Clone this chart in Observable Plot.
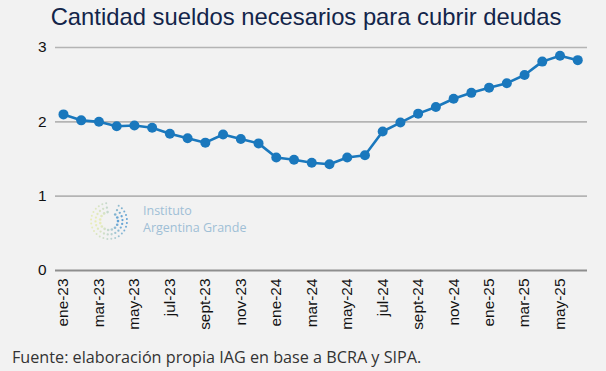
<!DOCTYPE html>
<html><head><meta charset="utf-8">
<script src="https://cdn.jsdelivr.net/npm/d3@7"></script>
<script src="https://cdn.jsdelivr.net/npm/@observablehq/plot@0.6"></script>
<style>
body{margin:0;background:#f2f2f2;}
#wrap{position:relative;width:606px;height:371px;background:#f2f2f2;overflow:hidden}
#title{height:36px;box-sizing:border-box;padding-top:5px;padding-left:6px;font:23.8px/24px "Liberation Sans",Arial,sans-serif;color:#13254a;text-align:center;white-space:nowrap}
#chart{height:310px}
#caption{box-sizing:border-box;padding-top:2px;padding-left:12px;font:16.2px/18px "Open Sans",sans-serif;color:#333;white-space:nowrap}
#logo{position:absolute;left:85px;top:197px;width:48px;height:48px}
.lt{position:absolute;left:143px;font:12.5px/17px "Open Sans",sans-serif;color:#9fbfd6;white-space:nowrap}
</style></head>
<body>
<div id="wrap">
<div id="title">Cantidad sueldos necesarios para cubrir deudas</div>
<div id="chart"></div>
<div id="caption">Fuente: elaboración propia IAG en base a BCRA y SIPA.</div>
<svg id="logo" viewBox="0 0 48 48"></svg>
<div class="lt" style="top:202px">Instituto</div>
<div class="lt" style="top:219px">Argentina Grande</div>
</div>
<script>
const months = ["ene-23","feb-23","mar-23","abr-23","may-23","jun-23","jul-23","ago-23","sept-23","oct-23","nov-23","dic-23",
  "ene-24","feb-24","mar-24","abr-24","may-24","jun-24","jul-24","ago-24","sept-24","oct-24","nov-24","dic-24",
  "ene-25","feb-25","mar-25","abr-25","may-25","jun-25"];
const values = [2.10,2.02,2.00,1.94,1.95,1.92,1.84,1.78,1.72,1.83,1.77,1.71,
  1.52,1.49,1.45,1.43,1.52,1.55,1.87,1.99,2.11,2.20,2.31,2.39,
  2.46,2.52,2.63,2.81,2.89,2.83];
const tickIndex = months.map((m,i)=>i).filter(i=>i%2===0);
const yTicks = [0,1,2,3];
const data = months.map((m,i)=>({i, month:m, value:values[i]}));
const blue = "#1a78bd";

const chart = Plot.plot({
  width:606, height:310,
  marginTop:11, marginBottom:76, marginLeft:55, marginRight:19,
  style:{background:"transparent", fontFamily:"'Liberation Sans', Arial, sans-serif", fontSize:"15.4px", color:"#111"},
  x:{type:"linear", domain:[-0.45, months.length - 0.45], label:null},
  y:{domain:[0,3], label:null},
  marks:[
    Plot.ruleY(yTicks.filter(d=>d>0), {stroke:"#b4b4b4", strokeWidth:1.6}),
    Plot.ruleY([0], {stroke:"#8e8e8e", strokeWidth:1.8}),
    Plot.axisY({ticks:yTicks, tickSize:0, tickPadding:9, tickFormat:d=>String(d), fontSize:15.4}),
    Plot.axisX({ticks:tickIndex, tickSize:0, tickPadding:8, tickRotate:-90, tickFormat:i=>months[i], fontSize:15.4}),
    Plot.line(data, {x:"i", y:"value", stroke:blue, strokeWidth:2.6}),
    Plot.dot(data, {x:"i", y:"value", fill:blue, r:5, stroke:"none"})
  ]
});
document.getElementById("chart").appendChild(chart);

// decorative watermark logo (dotted ring)
const logo = d3.select("#logo");
const col = d3.interpolateRgb("#e2e98a", "#3a8ccd");
[[9,14],[13.5,20],[18,26]].forEach(([r,n],k)=>{
  for(let i=0;i<n;i++){
    const a = Math.PI*0.55 + i/n*2*Math.PI*0.92;
    const t = Math.max(0, Math.cos(a - 0.2))*0.5 + 0.5*(1 - Math.abs(Math.sin(a))*0.3);
    logo.append("circle")
      .attr("cx", 24 + r*Math.cos(a))
      .attr("cy", 24 - r*Math.sin(a))
      .attr("r", 1.3 - k*0.15)
      .attr("fill", col(Math.min(1, (Math.cos(a)+1)/2)))
      .attr("opacity", 0.35 + 0.45*t);
  }
});
</script>
</body></html>
